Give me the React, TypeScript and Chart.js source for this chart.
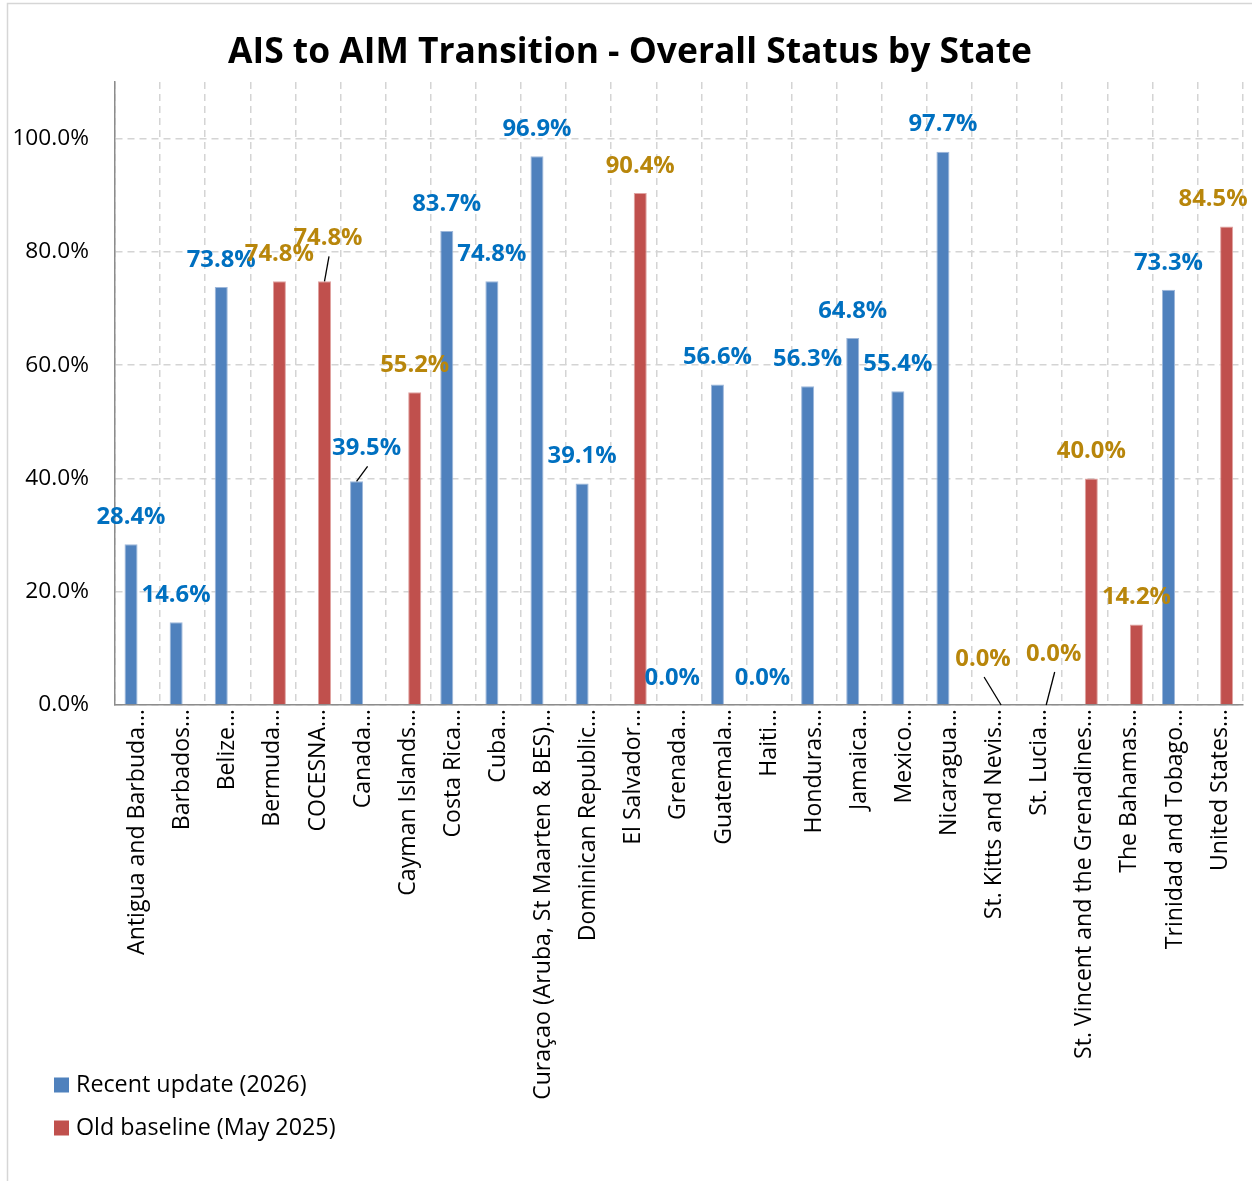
import React, { useEffect, useRef } from "react";
import { Chart, registerables } from "chart.js";

Chart.register(...registerables);

// ---------- data ----------
const categories = [
  "Antigua and Barbuda…",
  "Barbados…",
  "Belize…",
  "Bermuda…",
  "COCESNA…",
  "Canada…",
  "Cayman Islands…",
  "Costa Rica…",
  "Cuba…",
  "Curaçao (Aruba, St Maarten & BES)…",
  "Dominican Republic…",
  "El Salvador…",
  "Grenada…",
  "Guatemala…",
  "Haiti…",
  "Honduras…",
  "Jamaica…",
  "Mexico…",
  "Nicaragua…",
  "St. Kitts and Nevis…",
  "St. Lucia…",
  "St. Vincent and the Grenadines…",
  "The Bahamas…",
  "Trinidad and Tobago…",
  "United States…",
];

const recentUpdate2026 = [
  28.4, 14.6, 73.8, null, null, 39.5, null, 83.7, 74.8, 96.9, 39.1, null, 0.0,
  56.6, 0.0, 56.3, 64.8, 55.4, 97.7, null, null, null, null, 73.3, null,
];

const oldBaselineMay2025 = [
  null, null, null, 74.8, 74.8, null, 55.2, null, null, null, null, 90.4, null,
  null, null, null, null, null, null, 0.0, 0.0, 40.0, 14.2, null, 84.5,
];

const seriesNames = ["Recent update (2026)", "Old baseline (May 2025)"];
const yTickValues = [0, 20, 40, 60, 80, 100];
const chartTitle = "AIS to AIM Transition - Overall Status by State";

// ---------- style ----------
const FONT = "'Open Sans'";
const Y_TICK_SIZE = 22.7;
const X_TICK_SIZE = 23.1;
const LEGEND_SIZE = 23.3;
const LABEL_SIZE = 23.8;
const TITLE_SIZE = 35.4;
const BAR_COLORS = ["#4F81BD", "#C0504D"];
const BAR_EDGES = ["#9DB7DA", "#E0A3A1"];
const VALUE_COLORS = ["#0070C0", "#B8860B"];
const GRID_COLOR = "#D4D4D4";
const AXIS_COLOR = "#8C8C8C";

// label placement tweaks (dx, dy) in px relative to the default spot above a bar
const labelNudges: Record<string, [number, number, boolean]> = {
  "1:4": [3.5, -16, true],
  "0:5": [10, -6, true],
  "1:19": [-18, -19, true],
  "1:20": [7.5, -24, true],
  "1:24": [-13.5, 0, false],
};

const valueLabelPlugin = {
  id: "valueLabels",
  afterDatasetsDraw(chart: any) {
    const ctx = chart.ctx;
    ctx.save();
    ctx.font = `bold ${LABEL_SIZE}px ${FONT}`;
    ctx.textAlign = "center";
    ctx.textBaseline = "middle";
    chart.data.datasets.forEach((ds: any, di: number) => {
      const meta = chart.getDatasetMeta(di);
      meta.data.forEach((bar: any, i: number) => {
        const v = ds.data[i];
        if (v === null || v === undefined) return;
        const nudge = labelNudges[`${di}:${i}`];
        const lx = bar.x + (nudge ? nudge[0] : 0);
        const ly = bar.y - 27 + (nudge ? nudge[1] : 0);
        if (nudge && nudge[2]) {
          ctx.strokeStyle = "#000";
          ctx.lineWidth = 1.3;
          ctx.beginPath();
          ctx.moveTo(lx + 1, ly + 18);
          ctx.lineTo(bar.x, bar.y);
          ctx.stroke();
        }
        ctx.fillStyle = VALUE_COLORS[di];
        ctx.fillText(`${v.toFixed(1)}%`, lx, ly);
      });
    });
    ctx.restore();
  },
};

const decorPlugin = {
  id: "decor",
  afterDraw(chart: any) {
    const ctx = chart.ctx;
    ctx.save();
    // outer frame
    ctx.strokeStyle = "#D6D6D6";
    ctx.lineWidth = 1.5;
    ctx.beginPath();
    ctx.moveTo(7.5, 1181);
    ctx.lineTo(7.5, 3.5);
    ctx.lineTo(1252, 3.5);
    ctx.stroke();
    // title
    ctx.fillStyle = "#000";
    ctx.font = `bold ${TITLE_SIZE}px ${FONT}`;
    ctx.textAlign = "center";
    ctx.textBaseline = "middle";
    ctx.fillText(chartTitle, 630, 53);
    // legend
    ctx.font = `${LEGEND_SIZE}px ${FONT}`;
    ctx.textAlign = "left";
    chart.data.datasets.forEach((ds: any, di: number) => {
      const cy = 1085 + di * 43;
      ctx.fillStyle = ds.backgroundColor;
      ctx.fillRect(54, cy - 7.5, 15, 15);
      ctx.fillStyle = "#000";
      ctx.fillText(ds.label, 76, cy);
    });
    ctx.restore();
  },
};

export default function App() {
  const canvasRef = useRef<HTMLCanvasElement | null>(null);

  useEffect(() => {
    if (!canvasRef.current) return;
    const chart = new Chart(canvasRef.current, {
      type: "bar",
      data: {
        labels: categories,
        datasets: [
          {
            label: seriesNames[0],
            data: recentUpdate2026,
            backgroundColor: BAR_COLORS[0],
            borderColor: BAR_EDGES[0],
            borderWidth: 1,
            categoryPercentage: 0.578,
            barPercentage: 1.0,
          },
          {
            label: seriesNames[1],
            data: oldBaselineMay2025,
            backgroundColor: BAR_COLORS[1],
            borderColor: BAR_EDGES[1],
            borderWidth: 1,
            categoryPercentage: 0.578,
            barPercentage: 1.0,
          },
        ],
      },
      options: {
        responsive: false,
        animation: false,
        layout: { padding: { top: 82, right: 9, left: 0, bottom: 0 } },
        plugins: {
          legend: { display: false },
          title: { display: false },
          tooltip: { enabled: false },
        },
        scales: {
          x: {
            grid: { color: GRID_COLOR, lineWidth: 1.5, offset: true, drawTicks: false },
            border: { display: true, color: AXIS_COLOR, width: 1.5, dash: [7, 5] },
            ticks: {
              autoSkip: false,
              minRotation: 90,
              maxRotation: 90,
              padding: 4,
              color: "#000",
              font: { family: FONT, size: X_TICK_SIZE },
            },
            afterFit: (s: any) => {
              s.height = 476;
            },
          },
          y: {
            min: 0,
            max: 110,
            afterBuildTicks: (s: any) => {
              s.ticks = yTickValues.map((v) => ({ value: v }));
            },
            grid: { color: GRID_COLOR, lineWidth: 1.5, drawTicks: false },
            border: { display: true, color: AXIS_COLOR, width: 1.5, dash: [7, 5] },
            ticks: {
              padding: 26,
              color: "#000",
              font: { family: FONT, size: Y_TICK_SIZE },
              callback: (v: any) => `${Number(v).toFixed(1)}%`,
            },
            afterFit: (s: any) => {
              s.width = 115;
            },
          },
        },
      },
      plugins: [valueLabelPlugin, decorPlugin],
    } as any);
    return () => chart.destroy();
  }, []);

  return (
    <div style={{ position: "fixed", left: 0, top: 0, width: 1252, height: 1181, background: "#fff" }}>
      <canvas ref={canvasRef} width={1252} height={1181} style={{ display: "block" }} />
    </div>
  );
}
